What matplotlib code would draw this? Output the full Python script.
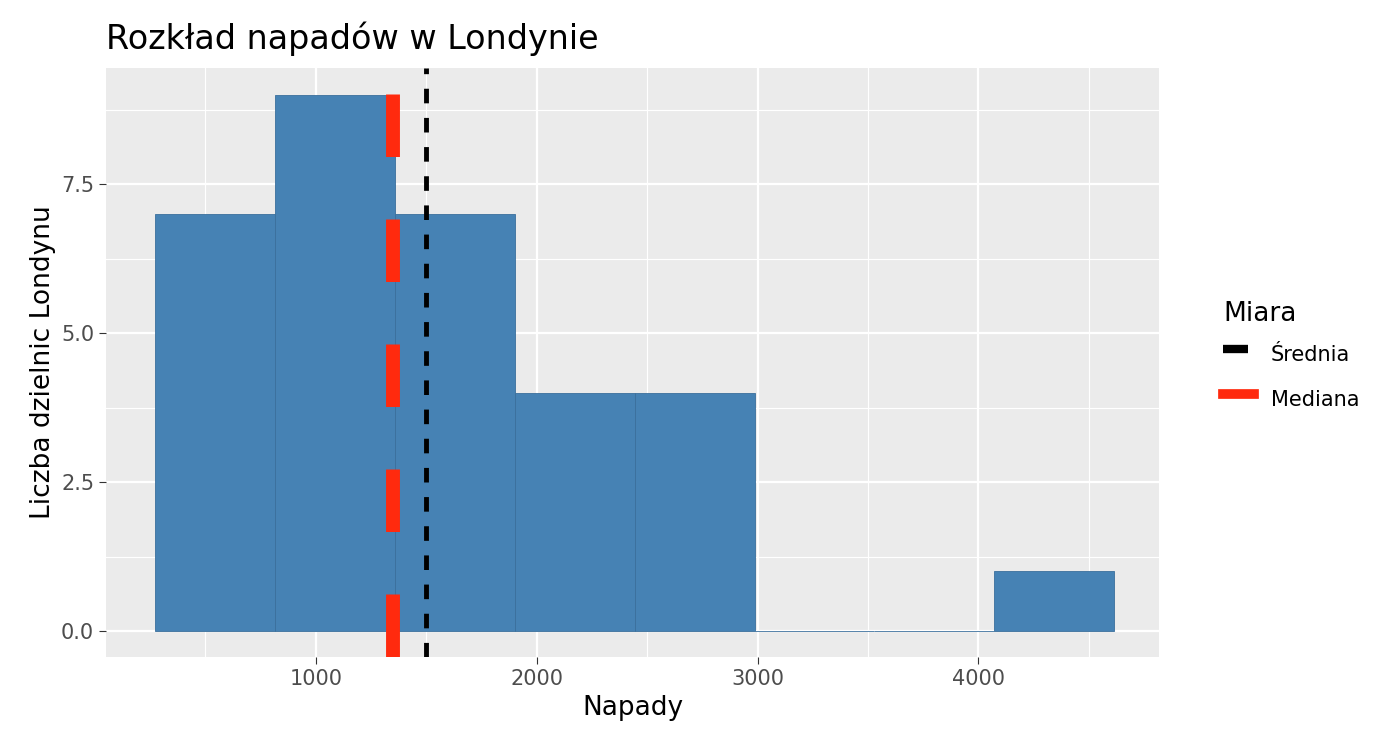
import matplotlib
matplotlib.use("Agg")
import matplotlib.pyplot as plt
from matplotlib.lines import Line2D

bin_edges = [271, 814, 1357, 1900, 2443, 2986, 3529, 4072, 4615]
counts = [7, 9, 7, 4, 4, 0, 0, 1]
mean_val = 1498
median_val = 1348

fig = plt.figure(figsize=(13.97, 7.52), dpi=100)
ax = fig.add_axes([0.0759, 0.126, 0.754, 0.784])
ax.set_facecolor("#EBEBEB")
for s in ax.spines.values():
    s.set_visible(False)

widths = [bin_edges[i+1]-bin_edges[i] for i in range(len(counts))]
ax.bar(bin_edges[:-1], counts, width=widths, align="edge", color="#4682B4",
       edgecolor="#3a6f9c", linewidth=0.6, zorder=2)

ax.set_xlim(50, 4819)
ax.set_ylim(-0.44, 9.46)
ax.set_xticks([1000, 2000, 3000, 4000])
ax.set_yticks([0, 2.5, 5, 7.5])
ax.set_yticklabels(["0.0", "2.5", "5.0", "7.5"])
ax.set_xticks([500, 1500, 2500, 3500, 4500], minor=True)
ax.set_yticks([1.25, 3.75, 6.25, 8.75], minor=True)
ax.grid(which="major", color="white", linewidth=1.6, zorder=0)
ax.grid(which="minor", color="white", linewidth=0.8, zorder=0)
ax.set_axisbelow(True)
ax.tick_params(which="major", length=5, color="#333333", labelsize=15, labelcolor="#4d4d4d")
ax.tick_params(which="minor", length=0)

ax.axvline(median_val, color="#FF2A0E", linewidth=10, dashes=(4.5, 4.5), zorder=3)
ax.axvline(mean_val, color="black", linewidth=3.5, dashes=(3, 3), zorder=3)

ax.set_xlabel("Napady", fontsize=19)
ax.set_ylabel("Liczba dzielnic Londynu", fontsize=19)
fig.text(0.0759, 0.935, "Rozkład napadów w Londynie", fontsize=24)

handles = [Line2D([0], [0], color="black", linewidth=6, dashes=(3, 1)),
           Line2D([0], [0], color="#FF2A0E", linewidth=7)]
leg = fig.legend(handles, ["Średnia", "Mediana"], title="Miara",
                 loc="upper left", bbox_to_anchor=(0.862, 0.625), frameon=False,
                 fontsize=15, title_fontsize=19, handlelength=1.5, handleheight=2.2,
                 labelspacing=0.5)
leg._legend_box.align = "left"
for h in leg.legend_handles:
    h.set_data([0.75*0 + 10, 10], [0, 30]) if False else None
fig.savefig("out.png", dpi=100)
